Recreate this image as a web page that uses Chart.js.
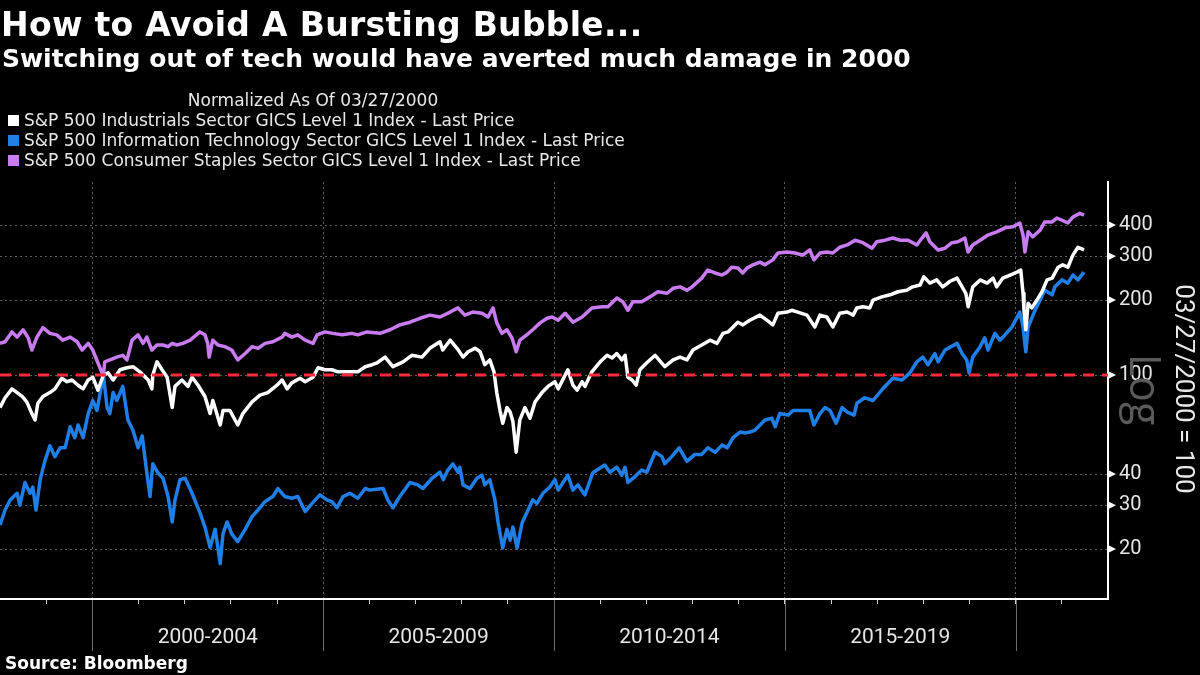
<!DOCTYPE html>
<html><head><meta charset="utf-8">
<script src="https://cdn.jsdelivr.net/npm/chart.js@4.4.1/dist/chart.umd.min.js"></script>
<style>
html,body{margin:0;padding:0;background:#000;width:1200px;height:675px;overflow:hidden;}
#wrap{position:relative;width:1200px;height:675px;}
canvas{position:absolute;left:0;top:0;}
.t{position:absolute;color:#fff;font-family:"DejaVu Sans",sans-serif;white-space:nowrap;line-height:1;}
#title{left:1px;top:8px;font-size:33px;font-weight:700;letter-spacing:0.3px;}
#sub{left:2px;top:46px;font-size:25px;font-weight:700;}
#norm{left:0;width:626px;text-align:center;top:92px;font-size:17px;color:#e8e8e8;}
.leg{left:8px;font-size:17px;color:#e8e8e8;}
.sw{display:inline-block;width:11px;height:11px;margin-right:5px;vertical-align:0px;}
#src{left:5px;top:655px;font-size:17px;font-weight:700;}
#ytitle{left:1035px;width:300px;text-align:center;top:376px;font-size:26px;font-family:Roboto,sans-serif;color:#e8e8e8;transform:rotate(90deg);transform-origin:50% 50%;}
#logw{left:1046px;width:200px;text-align:center;top:368px;font-size:43px;font-family:"Open Sans",sans-serif;color:#5a5a5a;transform:rotate(90deg);transform-origin:50% 50%;}
</style></head>
<body><div id="wrap">
<canvas id="c" width="1200" height="675"></canvas>
<div class="t" id="logw">Log</div>
<div class="t" id="title">How to Avoid A Bursting Bubble...</div>
<div class="t" id="sub">Switching out of tech would have averted much damage in 2000</div>
<div class="t" id="norm">Normalized As Of 03/27/2000</div>
<div class="t leg" style="top:112px"><span class="sw" style="background:#ffffff"></span>S&amp;P 500 Industrials Sector GICS Level 1 Index - Last Price</div>
<div class="t leg" style="top:132px"><span class="sw" style="background:#1f7fe6"></span>S&amp;P 500 Information Technology Sector GICS Level 1 Index - Last Price</div>
<div class="t leg" style="top:152px"><span class="sw" style="background:#c97bf0"></span>S&amp;P 500 Consumer Staples Sector GICS Level 1 Index - Last Price</div>
<div class="t" id="ytitle">03/27/2000 = 100</div>
<div class="t" id="src">Source: Bloomberg</div>
</div>
<script>
// ---- Data ----
const itYears = [1998.00,1998.11,1998.22,1998.37,1998.43,1998.54,1998.65,1998.71,1998.78,1998.87,
1998.97,1999.08,1999.19,1999.30,1999.41,1999.52,1999.62,1999.69,1999.80,1999.91,
2000.01,2000.10,2000.17,2000.24,2000.32,2000.38,2000.45,2000.53,2000.66,2000.77,
2000.88,2000.99,2001.08,2001.18,2001.25,2001.31,2001.42,2001.53,2001.64,2001.73,
2001.79,2001.90,2002.01,2002.16,2002.33,2002.44,2002.55,2002.66,2002.77,2002.83,
2002.92,2003.02,2003.15,2003.31,2003.46,2003.59,2003.74,2003.91,2004.02,2004.17,
2004.32,2004.45,2004.61,2004.76,2004.93,2005.08,2005.19,2005.30,2005.43,2005.58,
2005.75,2005.91,2006.01,2006.30,2006.40,2006.51,2006.66,2006.88,2007.05,2007.16,
2007.36,2007.53,2007.60,2007.70,2007.81,2007.92,2007.96,2008.03,2008.18,2008.33,
2008.44,2008.50,2008.61,2008.72,2008.79,2008.89,2008.98,2009.05,2009.11,2009.20,
2009.31,2009.41,2009.54,2009.63,2009.76,2009.91,2010.02,2010.09,2010.30,2010.41,
2010.52,2010.67,2010.84,2011.10,2011.21,2011.36,2011.47,2011.54,2011.60,2011.75,
2011.90,2012.01,2012.19,2012.34,2012.40,2012.55,2012.71,2012.88,2013.05,2013.20,
2013.33,2013.49,2013.64,2013.75,2013.88,2014.03,2014.14,2014.24,2014.35,2014.57,
2014.72,2014.79,2014.89,2015.07,2015.18,2015.37,2015.54,2015.63,2015.76,2015.87,
2015.98,2016.11,2016.24,2016.35,2016.50,2016.56,2016.73,2016.91,2017.12,2017.34,
2017.54,2017.71,2017.86,2017.99,2018.10,2018.25,2018.32,2018.47,2018.73,2018.84,
2018.94,2018.99,2019.07,2019.23,2019.33,2019.40,2019.55,2019.66,2019.77,2019.92,
2020.09,2020.16,2020.22,2020.27,2020.42,2020.53,2020.63,2020.79,2020.85,2021.00,
2021.13,2021.24,2021.35,2021.48];
const itValues = [25,28.7,31.5,33.5,30,37,33.5,35.5,28.7,38,
45,52,47,51,51,62,56,63,56,70,
79,72,85,100,74,70,85,79,90,66,
60,51,57,40.5,32.5,44,40.5,38.5,32.5,25.7,
31.5,38,38.5,33.5,28,24.5,20.3,24,17.5,23,
25.7,23,21.4,24,27,28.7,31,32.5,35,32.5,
32,32.5,28.3,30.5,33,31.5,31,29.3,32.5,33.5,
32,35,34.5,35,31.5,29.3,32.5,37,36.2,35,
38.5,40.7,38,41.5,44,40.7,42.6,36.2,35,38.5,
39.6,36.2,38,31.5,25.5,20.2,24,21.7,24.5,20.2,
25.5,28,31.5,30.5,33.5,35.5,38,34.5,39.6,34.5,
36.2,33,40.5,43.5,40.7,42.6,39.6,42.6,37,39,
41.5,40.7,49,47,44,47,51,45,48,48,
51,49,52.3,51,56,59,58.5,59,60,66,
67,62,70,69,72,72,72,63,70,74,
72,64,74,71,69,77,81,79,88,97,
95.5,102,113,118,110,122,113,126,134,122,
115,102,118,130,141,126,147,138,145,156,
179,156,124,156,182,200,219,210,226,241,
234,252,241,259];

const indYears = [1998.00,1998.11,1998.26,1998.37,1998.48,1998.58,1998.69,1998.76,1998.82,1998.93,
1999.08,1999.19,1999.34,1999.45,1999.56,1999.69,1999.80,1999.91,2000.01,2000.12,
2000.24,2000.34,2000.45,2000.60,2000.75,2000.88,2001.03,2001.21,2001.29,2001.31,
2001.40,2001.51,2001.62,2001.73,2001.79,2001.94,2002.07,2002.16,2002.29,2002.44,
2002.55,2002.61,2002.77,2002.83,2002.98,2003.15,2003.26,2003.46,2003.63,2003.80,
2004.00,2004.11,2004.22,2004.32,2004.50,2004.61,2004.78,2004.89,2005.04,2005.19,
2005.32,2005.54,2005.75,2005.91,2006.06,2006.17,2006.34,2006.51,2006.73,2006.92,
2007.14,2007.31,2007.53,2007.59,2007.75,2007.90,2008.03,2008.14,2008.29,2008.40,
2008.50,2008.61,2008.70,2008.76,2008.83,2008.89,2008.98,2009.05,2009.11,2009.18,
2009.26,2009.37,2009.48,2009.59,2009.74,2009.87,2010.02,2010.09,2010.30,2010.41,
2010.50,2010.61,2010.67,2010.82,2011.00,2011.15,2011.26,2011.36,2011.47,2011.54,
2011.60,2011.69,2011.78,2011.86,2012.01,2012.19,2012.40,2012.58,2012.73,2012.88,
2013.01,2013.20,2013.38,2013.53,2013.66,2013.77,2013.88,2013.98,2014.09,2014.24,
2014.46,2014.61,2014.74,2014.85,2015.05,2015.15,2015.28,2015.48,2015.65,2015.76,
2015.91,2016.04,2016.19,2016.35,2016.48,2016.56,2016.69,2016.84,2016.91,2017.10,
2017.28,2017.45,2017.64,2017.77,2017.93,2018.01,2018.14,2018.29,2018.42,2018.58,
2018.73,2018.84,2018.92,2018.97,2019.07,2019.23,2019.38,2019.51,2019.59,2019.72,
2019.88,2020.03,2020.11,2020.16,2020.18,2020.22,2020.27,2020.35,2020.46,2020.57,
2020.68,2020.79,2020.92,2021.02,2021.13,2021.24,2021.35,2021.48];
const indValues = [74,81,88,85,82,78,70,66,77,82,
85,88,97,94,95.5,91,88,95.5,98,87,
100,102,95.5,105,107,108,103,95.5,88,100,
113,105,98,74,90,95.5,90,98,91,82,
70,79,63,72,72,63,70,78,83,85,
91,95.5,88,93,97,94,98,107,105,105,
103,103,103,108,110,112,118,108,113,120,
118,128,136,126,138,128,118,124,128,124,
110,115,103,85,72,64,74,71,65,49,
66,74,67,78,85,90,94,88,105,91,
87,94,90,103,113,120,117,122,115,120,
98,95.5,91,105,112,120,108,115,118,115,
126,132,138,134,147,149,156,163,159,166,
174,166,159,177,179,182,179,174,156,174,
171,156,177,179,174,186,188,186,200,206,
210,216,219,226,230,248,234,241,226,238,
245,226,213,188,226,241,234,245,226,245,
252,259,264,213,182,152,194,186,200,216,
241,245,271,277,271,303,326,318];

const stapYears = [1998.00,1998.11,1998.26,1998.37,1998.50,1998.61,1998.69,1998.80,1998.93,1999.08,
1999.23,1999.36,1999.52,1999.67,1999.78,1999.91,2000.01,2000.12,2000.21,2000.24,
2000.27,2000.38,2000.53,2000.66,2000.75,2000.86,2000.99,2001.10,2001.18,2001.29,
2001.40,2001.53,2001.64,2001.73,2001.83,2001.96,2002.12,2002.33,2002.44,2002.50,
2002.53,2002.61,2002.72,2002.87,2003.02,2003.15,2003.31,2003.46,2003.59,2003.74,
2003.91,2004.11,2004.17,2004.32,2004.45,2004.61,2004.78,2004.87,2005.04,2005.21,
2005.41,2005.62,2005.75,2005.95,2006.23,2006.45,2006.66,2006.88,2007.10,2007.31,
2007.53,2007.75,2007.92,2008.07,2008.24,2008.44,2008.57,2008.68,2008.76,2008.87,
2008.98,2009.09,2009.18,2009.26,2009.41,2009.54,2009.70,2009.85,2009.96,2010.09,
2010.24,2010.41,2010.61,2010.82,2011.04,2011.17,2011.36,2011.49,2011.60,2011.71,
2011.90,2012.08,2012.25,2012.45,2012.58,2012.73,2012.88,2012.99,2013.20,2013.33,
2013.49,2013.64,2013.75,2013.85,2013.98,2014.09,2014.18,2014.31,2014.46,2014.57,
2014.74,2014.85,2015.05,2015.22,2015.39,2015.54,2015.63,2015.76,2015.91,2016.04,
2016.19,2016.35,2016.52,2016.69,2016.89,2016.99,2017.17,2017.34,2017.49,2017.67,
2017.86,2017.97,2018.06,2018.14,2018.32,2018.47,2018.62,2018.75,2018.90,2018.97,
2019.07,2019.23,2019.40,2019.59,2019.77,2019.94,2020.09,2020.16,2020.20,2020.27,
2020.37,2020.53,2020.63,2020.79,2020.89,2021.00,2021.13,2021.24,2021.39,2021.48];
const stapValues = [134,136,149,142,152,141,126,142,155,147,
145,138,142,136,126,134,126,112,102,100,
113,115,118,120,115,138,145,134,142,126,
132,132,130,134,132,134,138,149,145,134,
118,138,132,130,126,115,122,130,128,134,
136,142,147,142,145,138,134,145,149,147,
145,147,145,149,147,152,159,163,169,174,
171,179,186,174,179,177,171,186,162,147,
152,141,124,138,145,152,162,169,171,166,
177,163,171,186,188,188,204,197,182,197,
197,206,216,213,223,226,219,226,245,264,
257,252,259,271,269,257,269,277,284,277,
290,309,312,309,303,318,290,309,312,309,
326,333,348,340,323,343,348,355,348,348,
333,355,372,343,318,323,340,343,355,312,
333,348,365,376,390,394,408,365,312,376,
359,382,412,412,427,419,408,431,446,439];

const yTickValues = [20, 30, 40, 100, 200, 300, 400];
const periodLabels = ['2000-2004', '2005-2009', '2010-2014', '2015-2019'];
const periodStarts = [2000, 2005, 2010, 2015];
const separatorYears = [2000, 2005, 2010, 2015, 2020];
const baseLevel = 100;
const xRange = [1998, 2022];
const yRange = [12.6, 596];

const pts = (xs, ys) => xs.map((x, i) => ({x: x, y: ys[i]}));

const decorPlugin = {
  id: 'decor',
  afterDraw(chart) {
    const ctx = chart.ctx, xs = chart.scales.x, ys = chart.scales.y, ca = chart.chartArea;
    ctx.save();
    ctx.strokeStyle = '#6a6a6a'; ctx.lineWidth = 1;
    separatorYears.forEach(yr => {
      const px = Math.round(xs.getPixelForValue(yr)) + 0.5;
      ctx.beginPath(); ctx.moveTo(px, ca.bottom + 1); ctx.lineTo(px, ca.bottom + 52); ctx.stroke();
    });
    ctx.fillStyle = '#e6e6e6';
    ctx.font = '21px Roboto, "Open Sans", sans-serif';
    ctx.textAlign = 'center'; ctx.textBaseline = 'middle';
    periodLabels.forEach((lab, i) => {
      ctx.fillText(lab, xs.getPixelForValue(periodStarts[i] + 2.5), ca.bottom + 39);
    });
    ctx.fillStyle = '#ffffff';
    yTickValues.forEach(v => {
      const py = ys.getPixelForValue(v);
      ctx.beginPath();
      ctx.moveTo(ca.right, py - 4); ctx.lineTo(ca.right + 8, py); ctx.lineTo(ca.right, py + 4);
      ctx.closePath(); ctx.fill();
    });
    ctx.restore();
  }
};

new Chart(document.getElementById('c'), {
  type: 'line',
  data: {
    datasets: [
      {label: 'base', data: [{x: xRange[0], y: baseLevel}, {x: xRange[1], y: baseLevel}],
       borderColor: '#ff2a3c', borderWidth: 3, borderDash: [11, 8], pointRadius: 0, order: 0},
      {label: 'S&P 500 Consumer Staples Sector GICS Level 1 Index - Last Price', data: pts(stapYears, stapValues),
       borderColor: '#c97bf0', borderWidth: 3.5, pointRadius: 0, order: 1},
      {label: 'S&P 500 Industrials Sector GICS Level 1 Index - Last Price', data: pts(indYears, indValues),
       borderColor: '#ffffff', borderWidth: 3.5, pointRadius: 0, order: 2},
      {label: 'S&P 500 Information Technology Sector GICS Level 1 Index - Last Price', data: pts(itYears, itValues),
       borderColor: '#1f7fe6', borderWidth: 3.5, pointRadius: 0, order: 3}
    ]
  },
  options: {
    responsive: false, animation: false,
    layout: {padding: {top: 182, left: 0, right: 0, bottom: 0}},
    plugins: {legend: {display: false}, tooltip: {enabled: false}},
    elements: {line: {tension: 0, borderJoinStyle: 'round'}},
    scales: {
      x: {
        type: 'linear', min: xRange[0], max: xRange[1],
        afterBuildTicks: s => { const t = []; for (let y = xRange[0]; y <= xRange[1]; y++) t.push({value: y}); s.ticks = t; },
        afterFit: s => { s.height = 76; },
        ticks: {callback: () => '', font: {size: 1}, padding: 0},
        grid: {
          color: c => (c.tick && c.tick.value % 5 === 0 && c.tick.value > xRange[0] && c.tick.value < xRange[1]) ? '#5e5e5e' : 'rgba(0,0,0,0)',
          lineWidth: 1, tickLength: 5, tickColor: c => (c.tick && c.tick.value > xRange[0] && c.tick.value < xRange[1]) ? '#cccccc' : 'rgba(0,0,0,0)', tickWidth: 1
        },
        border: {display: true, color: '#ffffff', width: 2, dash: [2, 3]}
      },
      y: {
        type: 'logarithmic', position: 'right', min: yRange[0], max: yRange[1],
        afterBuildTicks: s => { s.ticks = yTickValues.map(v => ({value: v})); },
        afterFit: s => { s.width = 92; },
        ticks: {color: '#e6e6e6', font: {family: 'Roboto', size: 20}, padding: 11, callback: v => String(v)},
        grid: {color: '#5e5e5e', lineWidth: 1, drawTicks: false},
        border: {display: true, color: '#ffffff', width: 2, dash: [2, 3]}
      }
    }
  },
  plugins: [decorPlugin]
});
</script>
</body></html>
